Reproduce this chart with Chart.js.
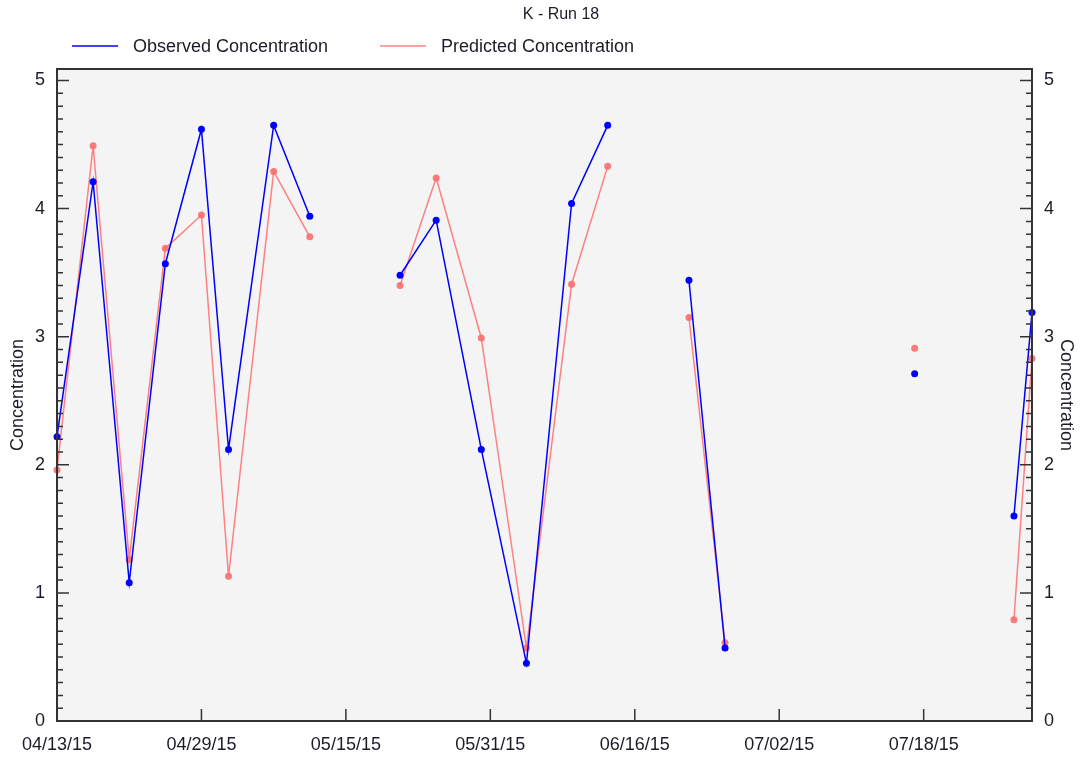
<!DOCTYPE html>
<html>
<head>
<meta charset="utf-8">
<title>K - Run 18</title>
<script src="https://cdn.jsdelivr.net/npm/chart.js@4.4.1/dist/chart.umd.min.js"></script>
<style>
    html, body { margin: 0; padding: 0; background: #ffffff; }
    #wrap { width: 1081px; height: 758px; position: relative; }
</style>
</head>
<body>
<div id="wrap"><canvas id="conc-chart"></canvas></div>
<script>
// sample dates (null rows = no sample taken, breaks the line)
const sampleDates = [
    '04/13/15', '04/17/15', '04/21/15', '04/25/15', '04/29/15', '05/02/15', '05/07/15', '05/11/15',
    '05/16/15',
    '05/21/15', '05/25/15', '05/30/15', '06/04/15', '06/09/15', '06/13/15',
    '06/17/15',
    '06/22/15', '06/26/15',
    '07/06/15',
    '07/17/15',
    '07/22/15',
    '07/28/15', '07/30/15'
];
const observed = [
    2.22, 4.21, 1.08, 3.57, 4.62, 2.12, 4.65, 3.94,
    null,
    3.48, 3.91, 2.12, 0.45, 4.04, 4.65,
    null,
    3.44, 0.57,
    null,
    2.71,
    null,
    1.60, 3.19
];
const predicted = [
    1.96, 4.49, 1.26, 3.69, 3.95, 1.13, 4.29, 3.78,
    null,
    3.40, 4.24, 2.99, 0.57, 3.41, 4.33,
    null,
    3.15, 0.61,
    null,
    2.91,
    null,
    0.79, 2.83
];
const tickDates = ['04/13/15', '04/29/15', '05/15/15', '05/31/15', '06/16/15', '07/02/15', '07/18/15'];
const startDate = '04/13/15';
const endDate = '07/30/15';
const yMin = 0;
const yMax = 5.09;

function dayOf(str) {
    const [m, d, y] = str.split('/').map(Number);
    return Date.UTC(2000 + y, m - 1, d) / 86400000;
}
const day0 = dayOf(startDate);
const toPoints = values => sampleDates.map((s, i) => ({ x: dayOf(s) - day0, y: values[i] }));

const FONT = "'Liberation Sans', Arial, sans-serif";
const TEXT_COLOR = '#1c1c28';
const AXIS_COLOR = '#333333';
const labelFont = { family: FONT, size: 18 };

// plot background, frame and inward tick marks
const frame = {
    id: 'frame',
    beforeDatasetsDraw(chart) {
        const { ctx, chartArea: a } = chart;
        ctx.save();
        ctx.fillStyle = '#f4f4f4';
        ctx.fillRect(a.left, a.top, a.right - a.left, a.bottom - a.top);
        ctx.restore();
    },
    afterDraw(chart) {
        const { ctx, chartArea: a, scales } = chart;
        ctx.save();
        ctx.strokeStyle = AXIS_COLOR;
        ctx.lineWidth = 1.5;
        ctx.beginPath();
        // y minor/major ticks on both sides
        for (let v = 0; v <= 50; v++) {
            const y = scales.y.getPixelForValue(v / 10);
            if (y < a.top) break;
            const len = v % 10 === 0 ? 12 : 6;
            ctx.moveTo(a.left, y); ctx.lineTo(a.left + len, y);
            ctx.moveTo(a.right, y); ctx.lineTo(a.right - len, y);
        }
        // x ticks
        scales.x.ticks.forEach(t => {
            const x = scales.x.getPixelForValue(t.value);
            ctx.moveTo(x, a.bottom); ctx.lineTo(x, a.bottom - 12);
        });
        ctx.stroke();
        ctx.lineWidth = 2;
        ctx.strokeRect(a.left, a.top, a.right - a.left, a.bottom - a.top);
        ctx.restore();
    }
};

// title and legend row
const header = {
    id: 'header',
    afterDraw(chart) {
        const { ctx } = chart;
        ctx.save();
        ctx.fillStyle = TEXT_COLOR;
        ctx.font = '16px ' + FONT;
        ctx.textAlign = 'center';
        ctx.textBaseline = 'middle';
        ctx.fillText('K - Run 18', 561, 15);
        ctx.font = '18px ' + FONT;
        ctx.textAlign = 'left';
        const items = [[72, chart.data.datasets[0]], [380, chart.data.datasets[1]]];
        items.forEach(([x, ds]) => {
            ctx.strokeStyle = ds.borderColor;
            ctx.lineWidth = 1.5;
            ctx.beginPath();
            ctx.moveTo(x, 46); ctx.lineTo(x + 46, 46);
            ctx.stroke();
            ctx.fillStyle = TEXT_COLOR;
            ctx.fillText(ds.label, x + 61, 47);
        });
        ctx.restore();
    }
};

new Chart(document.getElementById('conc-chart'), {
    type: 'line',
    data: {
        datasets: [
            {
                label: 'Observed Concentration',
                data: toPoints(observed),
                borderColor: '#0000ff',
                backgroundColor: '#0000ff',
                borderWidth: 1.5,
                pointRadius: 3.5,
                pointBorderWidth: 0,
                clip: false,
                order: 1
            },
            {
                label: 'Predicted Concentration',
                data: toPoints(predicted),
                borderColor: 'rgba(255, 100, 100, 0.8)',
                backgroundColor: 'rgba(250, 110, 110, 0.9)',
                borderWidth: 1.5,
                pointRadius: 3.5,
                pointBorderWidth: 0,
                clip: false,
                order: 2
            }
        ]
    },
    options: {
        responsive: true,
        maintainAspectRatio: false,
        animation: false,
        spanGaps: false,
        layout: { padding: { top: 69, left: 0, right: 0, bottom: 0 } },
        plugins: {
            legend: { display: false },
            title: { display: false },
            tooltip: { enabled: false }
        },
        scales: {
            x: {
                type: 'linear',
                min: 0,
                max: dayOf(endDate) - day0,
                bounds: 'data',
                grid: { display: false, drawTicks: false },
                border: { display: false },
                afterFit: scale => { scale.height = 37; },
                ticks: {
                    stepSize: 16,
                    includeBounds: false,
                    padding: 13,
                    maxRotation: 0,
                    color: TEXT_COLOR,
                    font: labelFont,
                    callback: (value, index) => tickDates[index]
                }
            },
            y: {
                position: 'left',
                min: yMin,
                max: yMax,
                bounds: 'data',
                grid: { display: false, drawTicks: false },
                border: { display: false },
                afterFit: scale => { scale.width = 57; },
                title: {
                    display: true,
                    text: 'Concentration',
                    color: TEXT_COLOR,
                    font: labelFont,
                    padding: { top: 7, bottom: 0 }
                },
                ticks: {
                    stepSize: 1,
                    includeBounds: false,
                    padding: 12,
                    color: TEXT_COLOR,
                    font: labelFont
                }
            },
            y2: {
                position: 'right',
                min: yMin,
                max: yMax,
                bounds: 'data',
                grid: { display: false, drawTicks: false },
                border: { display: false },
                afterFit: scale => { scale.width = 49; },
                title: {
                    display: true,
                    text: 'Concentration',
                    color: TEXT_COLOR,
                    font: labelFont,
                    padding: { top: 4, bottom: 0 }
                },
                ticks: {
                    stepSize: 1,
                    includeBounds: false,
                    padding: 12,
                    color: TEXT_COLOR,
                    font: labelFont
                }
            }
        }
    },
    plugins: [frame, header]
});
</script>
</body>
</html>
